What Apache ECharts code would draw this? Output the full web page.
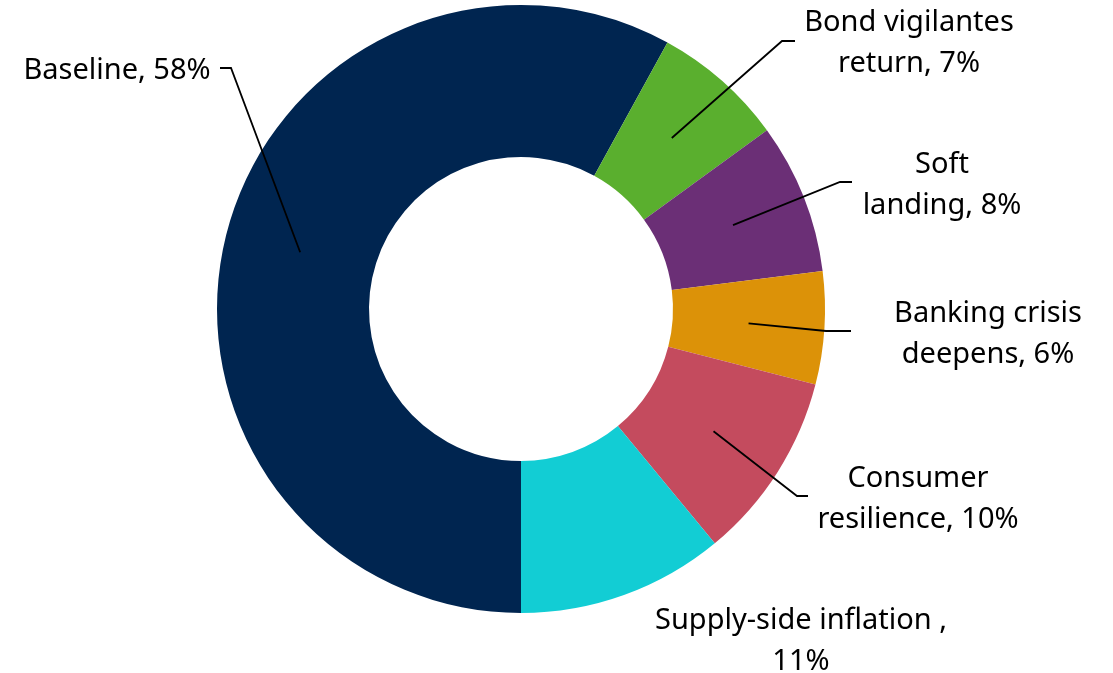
<!DOCTYPE html>
<html>
<head>
<meta charset="utf-8">
<script src="https://cdn.jsdelivr.net/npm/echarts@6/dist/echarts.min.js"></script>
<style>
html,body{margin:0;padding:0;background:#fff;}
#chart{width:1113px;height:673px;}
</style>
</head>
<body>
<div id="chart"></div>
<script>
var categories = ['Baseline', 'Bond vigilantes\nreturn', 'Soft\nlanding', 'Banking crisis\ndeepens', 'Consumer\nresilience', 'Supply-side inflation ,\n'];
var values = [58, 7, 8, 6, 10, 11];
var colors = ['#002550', '#5aaf2e', '#6b2f76', '#dc9208', '#c44b5e', '#12cdd4'];

var CX = 521, CY = 309, R_IN = 152, R_OUT = 304;
// label anchor (text centre) and line elbow/end, as offsets from the pie centre
var labelPlace = [
  {t: [-404, -238], e: [-290, -241], f: [-301, -241]},
  {t: [388, -266], e: [261, -268], f: [274, -268]},
  {t: [421, -124], e: [319, -127], f: [331, -127]},
  {t: [467, 25], e: [305, 22], f: [330, 22]},
  {t: [397, 190], e: [276, 187], f: [287, 187]},
  {t: [280, 332], e: null, f: null}
];

var total = values.reduce(function (a, b) { return a + b; }, 0);
function midAngle(i) {
  var cum = 0;
  for (var k = 0; k < i; k++) cum += values[k];
  return (180 + (cum + values[i] / 2) / total * 360) * Math.PI / 180;
}

function makeData(transparent) {
  return categories.map(function (c, i) {
    return {
      name: c,
      value: values[i],
      itemStyle: {color: transparent ? 'rgba(0,0,0,0)' : colors[i]},
      labelLine: {show: i !== 5}
    };
  });
}

var chart = echarts.init(document.getElementById('chart'), null, {renderer: 'canvas'});
chart.setOption({
  animation: false,
  backgroundColor: '#ffffff',
  series: [{
    type: 'pie',
    z: 2,
    center: [CX, CY],
    radius: [R_IN, R_OUT],
    startAngle: -90,
    clockwise: true,
    silent: true,
    itemStyle: {borderWidth: 0},
    label: {show: false},
    labelLine: {show: false},
    data: makeData(false)
  }, {
    type: 'pie',
    z: 5,
    center: [CX, CY],
    radius: [R_IN, R_OUT],
    startAngle: -90,
    clockwise: true,
    silent: true,
    avoidLabelOverlap: false,
    itemStyle: {borderWidth: 0},
    label: {
      show: true,
      position: 'outside',
      fontFamily: 'Noto Sans',
      fontSize: 29,
      lineHeight: 41,
      color: '#000000',
      formatter: function (p) {
        var n = p.name;
        if (p.dataIndex === 5) return n + p.value + '%';
        return n + ', ' + p.value + '%';
      }
    },
    labelLine: {
      show: true,
      lineStyle: {color: '#000000', width: 1.8}
    },
    labelLayout: function (params) {
      var i = params.dataIndex;
      var pl = labelPlace[i];
      var res = {
        x: CX + pl.t[0],
        y: CY + pl.t[1],
        align: 'center',
        verticalAlign: 'middle'
      };
      if (pl.e) {
        var a = midAngle(i);
        var rm = (R_IN + R_OUT) / 2;
        res.labelLinePoints = [
          [CX + rm * Math.sin(a), CY - rm * Math.cos(a)],
          [CX + pl.e[0], CY + pl.e[1]],
          [CX + pl.f[0], CY + pl.f[1]]
        ];
      }
      return res;
    },
    data: makeData(true)
  }]
});
</script>
</body>
</html>
